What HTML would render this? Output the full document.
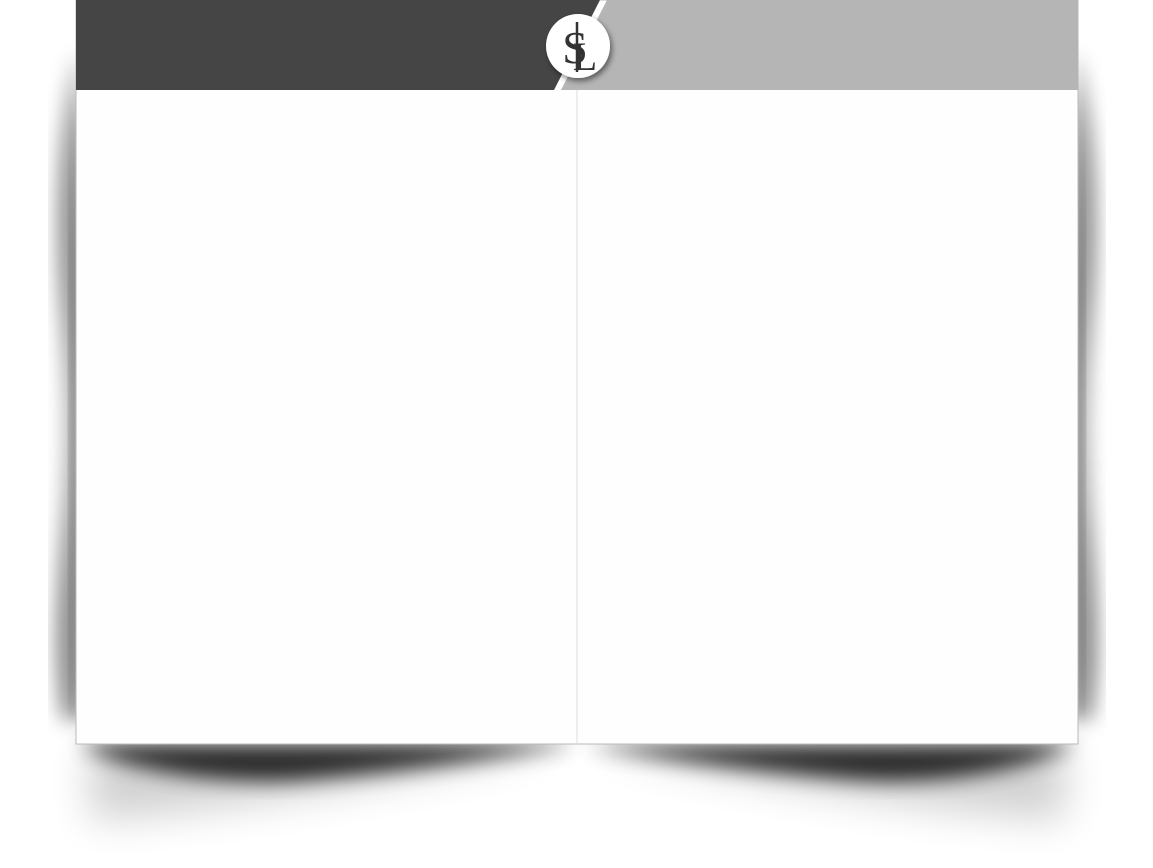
<!DOCTYPE html>
<html><head><meta charset="utf-8">
<style>
html,body{margin:0;padding:0;background:#fff;width:1153px;height:868px;overflow:hidden;}
svg{display:block}
</style></head>
<body>
<svg width="1153" height="868" viewBox="0 0 1153 868">
<defs>
<filter id="b10" x="-50%" y="-50%" width="200%" height="200%"><feGaussianBlur stdDeviation="10"/></filter>
<filter id="b20" x="-50%" y="-50%" width="200%" height="200%"><feGaussianBlur stdDeviation="20"/></filter>
<filter id="b6" x="-50%" y="-50%" width="200%" height="200%"><feGaussianBlur stdDeviation="6"/></filter>
<filter id="ds" x="-50%" y="-50%" width="200%" height="200%"><feDropShadow dx="2" dy="3" stdDeviation="3" flood-opacity="0.5"/></filter>
</defs>
<g>
  <!-- left side shadow -->
  <path d="M78,50 C62,120 56,200 62,300 C68,380 70,420 66,500 C58,600 54,660 64,720 L78,720 Z" fill="#000" opacity="0.55" filter="url(#b10)"/>
  <path d="M78,90 C72,200 70,350 72,520 C73,620 72,680 76,720 L78,720 Z" fill="#000" opacity="0.5" filter="url(#b6)"/>
  <!-- right side shadow -->
  <path d="M1076,50 C1092,120 1098,200 1092,300 C1086,380 1084,420 1088,500 C1096,600 1100,660 1090,720 L1076,720 Z" fill="#000" opacity="0.55" filter="url(#b10)"/>
  <path d="M1076,90 C1082,200 1084,350 1082,520 C1081,620 1082,680 1078,720 L1076,720 Z" fill="#000" opacity="0.5" filter="url(#b6)"/>
  <!-- bottom shadows -->
  <path d="M80,744 C120,770 220,785 300,780 C400,772 480,760 570,746 L570,744 Z" fill="#000" opacity="0.8" filter="url(#b10)"/>
  <path d="M585,746 C670,760 760,772 860,780 C940,785 1030,770 1075,744 Z" fill="#000" opacity="0.8" filter="url(#b10)"/>
  <path d="M90,744 L560,744 C450,770 250,810 90,820 Z" fill="#000" opacity="0.18" filter="url(#b20)"/>
  <path d="M595,744 L1065,744 L1065,820 C900,810 700,770 595,744 Z" fill="#000" opacity="0.18" filter="url(#b20)"/>
</g>
<rect x="76" y="0" width="1002" height="744" fill="#fff" stroke="#b8b8b8" stroke-width="1"/>
<rect x="77" y="90" width="500" height="653" fill="#fefefe"/>
<rect x="578" y="90" width="499" height="653" fill="#fefefe"/>
<line x1="577" y1="90" x2="577" y2="744" stroke="#dcdcdc" stroke-width="1"/>
<polygon points="76,0 600,0 554,90 76,90" fill="#454545"/>
<polygon points="607,0 1078,0 1078,90 561,90" fill="#b5b5b5"/>
<g>
  <circle cx="578" cy="46" r="32" fill="#fff" filter="url(#ds)"/>
  <line x1="577" y1="22" x2="577" y2="72" stroke="#333" stroke-width="2.5"/>
  <text x="575" y="63" font-family="Liberation Serif, serif" font-size="46" fill="#333" text-anchor="middle">S</text>
  <text x="585" y="70" font-family="Liberation Serif, serif" font-size="40" fill="#333" text-anchor="middle">L</text>
</g>
</svg>
</body></html>
